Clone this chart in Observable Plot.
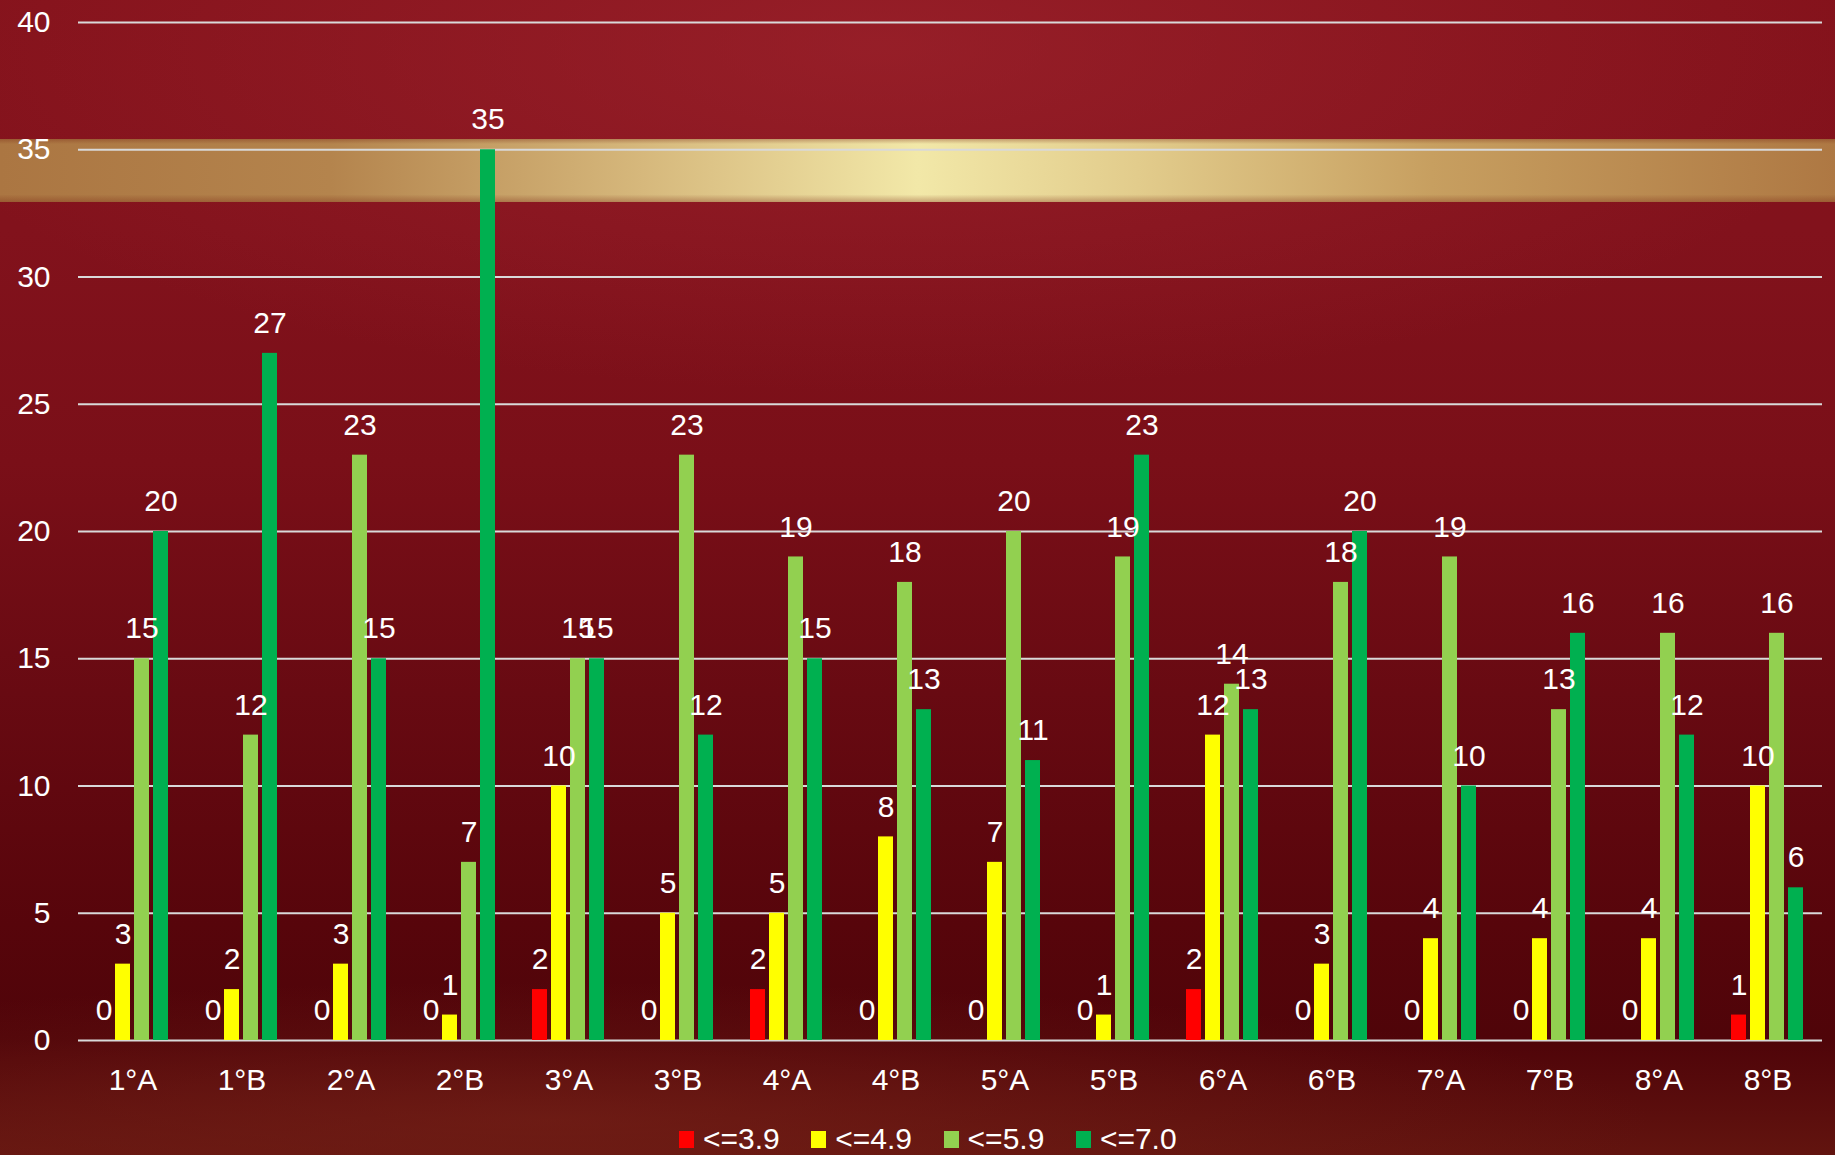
<!DOCTYPE html>
<html>
<head>
<meta charset="utf-8">
<script src="https://cdn.jsdelivr.net/npm/d3@7"></script>
<script src="https://cdn.jsdelivr.net/npm/@observablehq/plot@0.6"></script>
<style>
  html, body { margin: 0; padding: 0; }
  body {
    width: 1835px; height: 1155px; overflow: hidden; position: relative;
    font-family: "Liberation Sans", Arial, sans-serif;
    background:
      radial-gradient(ellipse 55% 30% at 48% 4%, rgba(165,40,50,0.55) 0%, rgba(165,40,50,0) 100%),
      radial-gradient(ellipse 60% 12% at 30% 97%, rgba(120,35,25,0.6) 0%, rgba(120,35,25,0) 100%),
      linear-gradient(to bottom, #84121b 0%, #82121c 20%, #7a0f18 40%, #680a12 60%, #57050b 80%, #4f0409 90%, #62140f 100%);
  }
  #band {
    position: absolute; left: 0; top: 139px; width: 1835px; height: 63px;
    background:
      linear-gradient(to bottom, rgba(120,40,20,0.35) 0%, rgba(0,0,0,0) 8%, rgba(0,0,0,0) 88%, rgba(120,40,20,0.35) 100%),
      linear-gradient(to right, #ab7642 0%, #b4844d 18%, #d6b87c 35%, #f2e8a8 50%, #e2cc8c 62%, #c79f60 78%, #ae7843 100%);
  }
  #chart { position: absolute; left: 0; top: 0; }
  #legend {
    position: absolute; left: 0; top: 1122px; width: 1835px; height: 34px;
    display: flex; justify-content: flex-start; align-items: center;
    color: white; font-size: 30px; padding-left: 679px; box-sizing: border-box;
  }
  .item { display: flex; align-items: center; width: 132.3px; flex: none; white-space: nowrap; }
  .sw { width: 15px; height: 17px; margin-right: 9px; flex: none; }
</style>
</head>
<body>
<div id="band"></div>
<div id="chart"></div>
<div id="legend"></div>
<script>
const classes = ["1°A","1°B","2°A","2°B","3°A","3°B","4°A","4°B","5°A","5°B","6°A","6°B","7°A","7°B","8°A","8°B"];
const seriesNames = ["<=3.9","<=4.9","<=5.9","<=7.0"];
const seriesColors = ["#ff0000","#ffff00","#92d050","#00b050"];
const red        = [0,0,0,0,2,0,2,0,0,0,2,0,0,0,0,1];
const yellow     = [3,2,3,1,10,5,5,8,7,1,12,3,4,4,4,10];
const lightGreen = [15,12,23,7,15,23,19,18,20,19,14,18,19,13,16,16];
const darkGreen  = [20,27,15,35,15,12,15,13,11,23,13,20,10,16,12,6];
const yTicks = [0,5,10,15,20,25,30,35,40];

const seriesValues = [red, yellow, lightGreen, darkGreen];
const data = [];
classes.forEach((c, i) => {
  seriesNames.forEach((s, j) => {
    data.push({cls: c, series: s, value: seriesValues[j][i]});
  });
});

const chart = Plot.plot({
  width: 1835,
  height: 1110,
  marginLeft: 75,
  marginRight: 10,
  marginTop: 22,
  marginBottom: 70,
  style: {background: "transparent", color: "white", fontFamily: "Liberation Sans, Arial, sans-serif", fontSize: "30px"},
  fx: {domain: classes, padding: 0},
  x: {domain: seriesNames, paddingInner: 0.2, paddingOuter: 0.875, axis: null},
  y: {domain: [0, 40], axis: null},
  color: {domain: seriesNames, range: seriesColors},
  marks: [
    Plot.ruleY(yTicks, {stroke: "#d9d9d9", strokeWidth: 2}),
    Plot.axisY({ticks: yTicks, tickSize: 0, tickPadding: 28, fontSize: 30, label: null, fill: "white"}),
    Plot.axisFx({anchor: "bottom", tickSize: 0, tickPadding: 28, fontSize: 30, label: null, fill: "white"}),
    Plot.barY(data, {fx: "cls", x: "series", y: "value", fill: "series"}),
    Plot.text(data, {fx: "cls", x: "series", y: "value", text: d => String(d.value), dy: -30, fill: "white", fontSize: 30})
  ]
});
document.getElementById("chart").appendChild(chart);

const legend = document.getElementById("legend");
seriesNames.forEach((s, j) => {
  const it = document.createElement("div");
  it.className = "item";
  const sw = document.createElement("div");
  sw.className = "sw";
  sw.style.background = seriesColors[j];
  const t = document.createElement("span");
  t.textContent = s;
  it.appendChild(sw); it.appendChild(t);
  legend.appendChild(it);
});
</script>
</body>
</html>
